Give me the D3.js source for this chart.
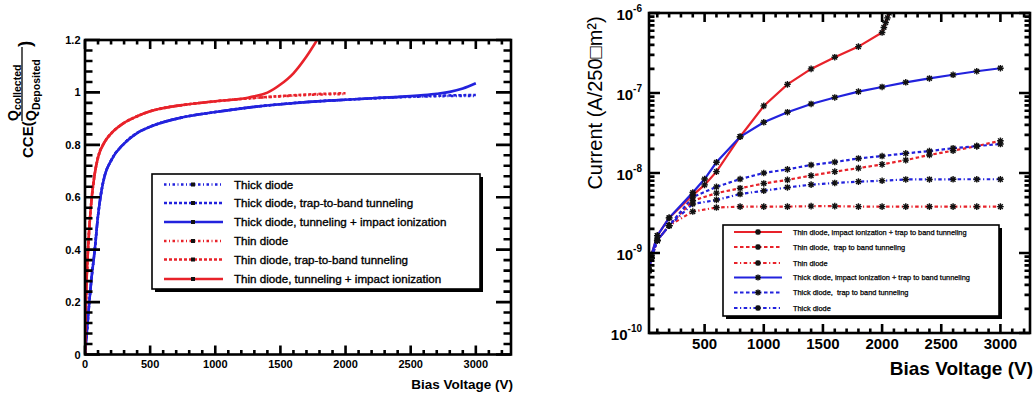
<!DOCTYPE html>
<html><head><meta charset="utf-8">
<script src="https://cdn.jsdelivr.net/npm/d3@7"></script>
<style>
body{margin:0;background:#fff;}
svg{display:block;font-family:"Liberation Sans",Arial,Helvetica,sans-serif;}
</style>
</head><body>
<svg id="c" width="1035" height="394"></svg>
<script>
// ---------------- Left panel data (CCE vs bias voltage) ----------------
const cceThickV        = [0, 10, 20, 33, 50, 75, 100, 125, 150, 200, 300, 400, 500, 750, 1000, 1250, 1500, 1750, 2000, 2250, 2500, 2750, 3000];
const cceThickDiode    = [0, 0.06, 0.12, 0.2, 0.29, 0.4, 0.53, 0.62, 0.68, 0.74, 0.805, 0.845, 0.869, 0.905, 0.925, 0.942, 0.955, 0.965, 0.972, 0.978, 0.983, 0.986, 0.987];
const cceThickTrap     = [0, 0.06, 0.12, 0.2, 0.29, 0.4, 0.53, 0.62, 0.68, 0.74, 0.805, 0.845, 0.869, 0.905, 0.925, 0.942, 0.955, 0.965, 0.972, 0.979, 0.984, 0.988, 0.990];
const cceThickImpactV  = [0, 10, 20, 33, 50, 75, 100, 125, 150, 200, 300, 400, 500, 750, 1000, 1250, 1500, 1750, 2000, 2250, 2500, 2600, 2700, 2800, 2900, 3000];
const cceThickImpact   = [0, 0.06, 0.12, 0.2, 0.29, 0.4, 0.53, 0.62, 0.68, 0.74, 0.805, 0.845, 0.869, 0.905, 0.925, 0.942, 0.955, 0.965, 0.972, 0.979, 0.986, 0.990, 0.995, 1.002, 1.015, 1.035];

const cceThinV         = [0, 5, 10, 20, 30, 40, 50, 75, 100, 150, 200, 250, 300, 400, 500, 600, 750, 1000, 1250, 1500, 1750, 2000];
const cceThinDiode     = [0, 0.15, 0.25, 0.37, 0.46, 0.53, 0.59, 0.69, 0.752, 0.81, 0.843, 0.866, 0.884, 0.909, 0.928, 0.94, 0.952, 0.966, 0.977, 0.985, 0.991, 0.994];
const cceThinTrap      = [0, 0.15, 0.25, 0.37, 0.46, 0.53, 0.59, 0.69, 0.752, 0.81, 0.843, 0.866, 0.884, 0.909, 0.928, 0.94, 0.952, 0.966, 0.977, 0.986, 0.993, 0.997];
const cceThinImpactV   = [0, 5, 10, 20, 30, 40, 50, 75, 100, 150, 200, 250, 300, 400, 500, 600, 750, 1000, 1250, 1300, 1400, 1500, 1600, 1700, 1800];
const cceThinImpact    = [0, 0.15, 0.25, 0.37, 0.46, 0.53, 0.59, 0.69, 0.752, 0.81, 0.843, 0.866, 0.884, 0.909, 0.928, 0.94, 0.952, 0.966, 0.980, 0.985, 0.999, 1.030, 1.073, 1.137, 1.215];

const cceXTicks = [0, 500, 1000, 1500, 2000, 2500, 3000];
const cceYTicks = [0, 0.2, 0.4, 0.6, 0.8, 1, 1.2];
const cceLegend = ["Thick diode", "Thick diode, trap-to-band tunneling", "Thick diode, tunneling + impact ionization",
                   "Thin diode", "Thin diode, trap-to-band tunneling", "Thin diode, tunneling + impact ionization"];

// ---------------- Right panel data (current vs bias voltage) ----------------
const ivV              = [30, 50, 100, 200, 400, 600, 800, 1000, 1200, 1400, 1600, 1800, 2000, 2200, 2400, 2600, 2800, 3000];
const ivThinImpactV    = [30, 50, 100, 200, 400, 500, 600, 800, 1000, 1200, 1400, 1600, 1800, 2000, 2015, 2030, 2045, 2060, 2075];
const ivThinImpact     = [6.2e-10, 9.4e-10, 1.65e-9, 2.75e-9, 5.3e-9, 7.1e-9, 1.04e-8, 2.84e-8, 6.9e-8, 1.28e-7, 2.0e-7, 2.8e-7, 3.8e-7, 5.7e-7, 6.6e-7, 7.6e-7, 8.7e-7, 1.0e-6, 1.2e-6];
const ivThickImpactV   = [30, 50, 100, 200, 400, 500, 600, 800, 1000, 1200, 1400, 1600, 1800, 2000, 2200, 2400, 2600, 2800, 3000];
const ivThickImpact    = [6.2e-10, 9.4e-10, 1.65e-9, 2.75e-9, 5.7e-9, 8.4e-9, 1.36e-8, 2.84e-8, 4.3e-8, 5.75e-8, 7.3e-8, 8.8e-8, 1.04e-7, 1.19e-7, 1.36e-7, 1.52e-7, 1.69e-7, 1.87e-7, 2.04e-7];
const ivThinTrap       = [6.0e-10, 8.6e-10, 1.43e-9, 2.2e-9, 4.5e-9, 5.6e-9, 6.45e-9, 7.4e-9, 8.2e-9, 9.3e-9, 1.04e-8, 1.15e-8, 1.28e-8, 1.45e-8, 1.68e-8, 1.9e-8, 2.17e-8, 2.53e-8];
const ivThickTrap      = [6.0e-10, 8.6e-10, 1.43e-9, 2.2e-9, 5.0e-9, 6.7e-9, 8.4e-9, 1.0e-8, 1.11e-8, 1.26e-8, 1.37e-8, 1.52e-8, 1.63e-8, 1.76e-8, 1.88e-8, 2.04e-8, 2.17e-8, 2.3e-8];
const ivThinDiode      = [6.0e-10, 8.6e-10, 1.43e-9, 2.2e-9, 3.3e-9, 3.7e-9, 3.8e-9, 3.8e-9, 3.8e-9, 3.85e-9, 3.85e-9, 3.8e-9, 3.8e-9, 3.8e-9, 3.8e-9, 3.8e-9, 3.8e-9, 3.8e-9];
const ivThickDiode     = [6.0e-10, 8.6e-10, 1.43e-9, 2.2e-9, 4.1e-9, 4.6e-9, 5.46e-9, 6.0e-9, 6.6e-9, 7.15e-9, 7.5e-9, 7.8e-9, 8.0e-9, 8.3e-9, 8.3e-9, 8.35e-9, 8.35e-9, 8.35e-9];

const ivXTicks = [500, 1000, 1500, 2000, 2500, 3000];
const ivYExponents = [-10, -9, -8, -7, -6];
const ivLegend = ["Thin diode, impact ionization + trap to band tunneling", "Thin diode,  trap to band tunneling", "Thin diode",
                  "Thick diode, impact ionization + trap to band tunneling", "Thick diode,  trap to band tunneling", "Thick diode"];

// ---------------- styles ----------------
const RED = "#e8222a", BLUE = "#2222dd";
const DASH = {solid: null, dot: "3,2", dashdot: "2.5,2.5,1,2.5"};
const DASH_R = {solid: null, dash: "3.5,2.5", dashdot: "3.5,2.5,1.2,2.5"};

const svg = d3.select("#c");

// ticks on all four sides, pointing inward (ROOT style)
function frameTicks(g, x, y, xMinor, xMajor, yMinor, yMajor, lens) {
  const xr = x.range(), yr = y.range();
  const X0 = xr[0], X1 = xr[1], YB = yr[0], YT = yr[1];
  let d = "";
  xMinor.forEach(v => {
    const L = xMajor.indexOf(v) >= 0 ? lens.xMaj : lens.xMin, px = x(v);
    d += `M${px},${YB}V${YB - L}M${px},${YT}V${YT + L}`;
  });
  yMinor.forEach(v => {
    const isMaj = yMajor.some(m => m === v || Math.abs(m - v) <= 1e-6 * Math.abs(m));
    const L = isMaj ? lens.yMaj : lens.yMin, py = y(v);
    d += `M${X0},${py}H${X0 + L}M${X1},${py}H${X1 - L}`;
  });
  g.append("path").attr("d", d).attr("fill", "none")
    .style("stroke", "#000").style("stroke-width", "2.6px");
  g.append("rect").attr("x", X0).attr("y", YT).attr("width", X1 - X0).attr("height", YB - YT)
    .style("fill", "none").style("stroke", "#000").style("stroke-width", "2.6px");
}

// =============== LEFT PANEL ===============
const xL = d3.scaleLinear().domain([0, 3270]).range([85, 511]);
const yL = d3.scaleLinear().domain([0, 1.2]).range([354.5, 40]);
const gL = svg.append("g");
svg.append("clipPath").attr("id", "clipL").append("rect")
  .attr("x", 85).attr("y", 40).attr("width", 426).attr("height", 314.5);

const lineL = d3.line().x(d => xL(d[0])).y(d => yL(d[1])).curve(d3.curveMonotoneX);
const leftSeries = [
  {v: cceThickV, c: cceThickDiode, col: BLUE, st: "dashdot"},
  {v: cceThickV, c: cceThickTrap, col: BLUE, st: "dot"},
  {v: cceThickImpactV, c: cceThickImpact, col: BLUE, st: "solid"},
  {v: cceThinV, c: cceThinDiode, col: RED, st: "dashdot"},
  {v: cceThinV, c: cceThinTrap, col: RED, st: "dot"},
  {v: cceThinImpactV, c: cceThinImpact, col: RED, st: "solid"}
];
const plotL = gL.append("g").attr("clip-path", "url(#clipL)");
leftSeries.forEach(s => {
  plotL.append("path").datum(s.v.map((v, i) => [v, s.c[i]]))
    .attr("d", lineL).attr("fill", "none").attr("stroke", s.col)
    .attr("stroke-width", 2.6).attr("stroke-dasharray", DASH[s.st]);
});

frameTicks(gL, xL, yL,
  d3.range(0, 3270, 100), cceXTicks,
  d3.range(0, 31).map(i => +(i * 0.04).toFixed(2)), cceYTicks,
  {xMaj: 9, xMin: 4.5, yMaj: 15, yMin: 7.5});

gL.selectAll(".xl").data(cceXTicks).join("text")
  .attr("x", d => xL(d)).attr("y", 368).attr("text-anchor", "middle")
  .attr("font-size", 11).attr("font-weight", "bold").text(d => d);
gL.selectAll(".yl").data(cceYTicks).join("text")
  .attr("x", 80.5).attr("y", d => yL(d) + 4).attr("text-anchor", "end")
  .attr("font-size", 11).attr("font-weight", "bold").text(d => d);

gL.append("text").attr("x", 513).attr("y", 389).attr("text-anchor", "end")
  .attr("font-size", 13.5).attr("font-weight", "bold").text("Bias Voltage (V)");

// y label: CCE(Q_collected / Q_Deposited)
const yLab = gL.append("g").attr("transform", "rotate(-90)").attr("font-weight", "bold");
yLab.append("text").attr("x", -158).attr("y", 33).attr("font-size", 15).text("CCE(");
const num = yLab.append("text").attr("x", -121).attr("y", 18).attr("font-size", 14);
num.append("tspan").text("Q");
num.append("tspan").attr("font-size", 10.5).attr("dy", 3).text("collected");
const den = yLab.append("text").attr("x", -121).attr("y", 36).attr("font-size", 14);
den.append("tspan").text("Q");
den.append("tspan").attr("font-size", 10.5).attr("dy", 4).text("Deposited");
yLab.append("line").attr("x1", -121).attr("x2", -47).attr("y1", 22).attr("y2", 22)
  .attr("stroke", "#000").attr("stroke-width", 1.3);
yLab.append("text").attr("x", -47).attr("y", 31).attr("font-size", 19).text(")");

// legend left
const legL = gL.append("g");
legL.append("rect").attr("x", 155).attr("y", 177).attr("width", 328).attr("height", 115).attr("fill", "#000");
legL.append("rect").attr("x", 152).attr("y", 174).attr("width", 328).attr("height", 115)
  .attr("fill", "#fff").attr("stroke", "#000").attr("stroke-width", 1.6);
const legRowsL = [184.5, 203, 222, 241, 259.5, 279];
const legStyleL = [["dashdot", BLUE], ["dot", BLUE], ["solid", BLUE], ["dashdot", RED], ["dot", RED], ["solid", RED]];
cceLegend.forEach((lab, i) => {
  const y = legRowsL[i];
  legL.append("line").attr("x1", 164).attr("x2", 223).attr("y1", y).attr("y2", y)
    .attr("stroke", legStyleL[i][1]).attr("stroke-width", 2.6).attr("stroke-dasharray", DASH[legStyleL[i][0]]);
  legL.append("rect").attr("x", 191).attr("y", y - 2).attr("width", 4).attr("height", 4).attr("fill", "#111");
  legL.append("text").attr("x", 234).attr("y", y + 4).attr("font-size", 11.6)
    .attr("stroke", "#000").attr("stroke-width", 0.35).text(lab);
});

// =============== RIGHT PANEL ===============
const xR = d3.scaleLinear().domain([30, 3250]).range([649, 1030]);
const yR = d3.scaleLog().domain([1e-10, 1e-6]).range([333, 13]);
const gR = svg.append("g");
svg.append("clipPath").attr("id", "clipR").append("rect")
  .attr("x", 649).attr("y", 13).attr("width", 381).attr("height", 320);

const lineR = d3.line().x(d => xR(d[0])).y(d => yR(d[1]));
const rightSeries = [
  {v: ivThinImpactV, c: ivThinImpact, col: RED, st: "solid"},
  {v: ivV, c: ivThinTrap, col: RED, st: "dash"},
  {v: ivV, c: ivThinDiode, col: RED, st: "dashdot"},
  {v: ivThickImpactV, c: ivThickImpact, col: BLUE, st: "solid"},
  {v: ivV, c: ivThickTrap, col: BLUE, st: "dash"},
  {v: ivV, c: ivThickDiode, col: BLUE, st: "dashdot"}
];
const plotR = gR.append("g").attr("clip-path", "url(#clipR)");
rightSeries.forEach(s => {
  plotR.append("path").datum(s.v.map((v, i) => [v, s.c[i]]))
    .attr("d", lineR).attr("fill", "none").attr("stroke", s.col)
    .attr("stroke-width", 2.2).attr("stroke-dasharray", DASH_R[s.st]);
});
function asterisk(g, cx, cy, r) {
  const k = r * 0.72;
  g.append("path").attr("d",
    `M${cx - r},${cy}L${cx + r},${cy}M${cx},${cy - r}L${cx},${cy + r}` +
    `M${cx - k},${cy - k}L${cx + k},${cy + k}M${cx - k},${cy + k}L${cx + k},${cy - k}`)
    .attr("stroke", "#111").attr("stroke-width", 1.4).attr("fill", "none");
}
const markG = plotR.append("g");
rightSeries.forEach(s => {
  s.v.forEach((v, i) => asterisk(markG, xR(v), yR(s.c[i]), 3.3));
});

const yMinorR = [];
ivYExponents.forEach(e => { for (let k = 1; k <= 9; k++) { const v = k * Math.pow(10, e); if (v <= 1.0000001e-6) yMinorR.push(v); } });
frameTicks(gR, xR, yR,
  d3.range(100, 3250, 100), ivXTicks,
  yMinorR, ivYExponents.map(e => Math.pow(10, e)),
  {xMaj: 9, xMin: 4.5, yMaj: 11, yMin: 5.5});

gR.selectAll(".xr").data(ivXTicks).join("text")
  .attr("x", d => xR(d)).attr("y", 348.5).attr("text-anchor", "middle")
  .attr("font-size", 15).attr("font-weight", "bold").text(d => d);
ivYExponents.forEach(e => {
  const t = gR.append("text").attr("x", 642).attr("y", yR(Math.pow(10, e)) + 7)
    .attr("text-anchor", "end").attr("font-size", 15).attr("font-weight", "bold");
  t.append("tspan").text("10");
  t.append("tspan").attr("dy", -8).attr("font-size", 10).text(String(e));
});

gR.append("text").attr("x", 1033).attr("y", 375).attr("text-anchor", "end")
  .attr("font-size", 19).attr("font-weight", "bold").text("Bias Voltage (V)");
gR.append("text").attr("transform", "translate(602,103) rotate(-90)").attr("text-anchor", "middle")
  .attr("font-size", 20).text("Current (A/250\u25A1m\u00B2)");

// legend right
const legR = gR.append("g");
legR.append("rect").attr("x", 726).attr("y", 228).attr("width", 276).attr("height", 91).attr("fill", "#000");
legR.append("rect").attr("x", 723).attr("y", 225).attr("width", 276).attr("height", 91)
  .attr("fill", "#fff").attr("stroke", "#000").attr("stroke-width", 1.6);
const legRowsR = [232, 247, 263, 277.5, 292.5, 308];
const legStyleR = [["solid", RED], ["dash", RED], ["dashdot", RED], ["solid", BLUE], ["dash", BLUE], ["dashdot", BLUE]];
ivLegend.forEach((lab, i) => {
  const y = legRowsR[i];
  legR.append("line").attr("x1", 734).attr("x2", 782).attr("y1", y).attr("y2", y)
    .attr("stroke", legStyleR[i][1]).attr("stroke-width", 2.2).attr("stroke-dasharray", DASH_R[legStyleR[i][0]]);
  asterisk(legR, 758, y, 3.0);
  legR.append("text").attr("x", 793).attr("y", y + 2.6).attr("font-size", 7.4)
    .style("white-space", "pre").attr("stroke", "#000").attr("stroke-width", 0.25).text(lab);
});
</script>
</body></html>
